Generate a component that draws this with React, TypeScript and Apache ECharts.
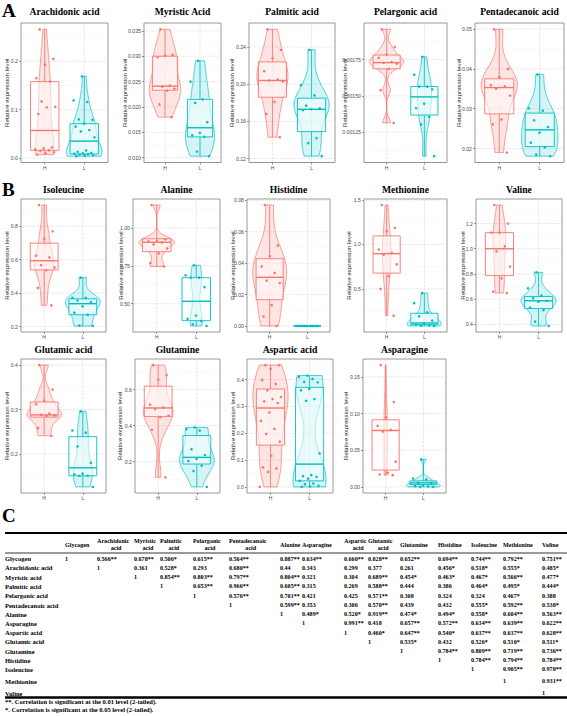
import React, { useEffect, useRef } from "react";
import * as echarts from "echarts";

// ------------------------------ DATA ------------------------------
const groups = ["H", "L"];

const panelTitles = [
  "Arachidonic acid", "Myristic Acid", "Palmitic acid", "Pelargonic acid", "Pentadecanoic acid",
  "Isoleucine", "Alanine", "Histidine", "Methionine", "Valine",
  "Glutamic acid", "Glutamine", "Aspartic acid", "Asparagine",
];

// Relative expression levels (points), and box stats [q1, median, q3]
const arachidonicH = [0.266, 0.205, 0.193, 0.165, 0.158, 0.117, 0.106, 0.105, 0.091, 0.022, 0.02, 0.018, 0.016, 0.015, 0.012, 0.01, 0.007];
const arachidonicL = [0.169, 0.119, 0.116, 0.08, 0.079, 0.071, 0.065, 0.058, 0.055, 0.043, 0.016, 0.013, 0.011, 0.01, 0.009, 0.008, 0.007, 0.006, 0.005, 0.004];
const arachidonicBoxH = [0.016, 0.057, 0.158];
const arachidonicBoxL = [0.0085, 0.035, 0.071];
const arachidonicTicks = [0, 0.1, 0.2];

const myristicH = [0.0353, 0.0303, 0.0301, 0.0298, 0.0242, 0.024, 0.0236, 0.0232, 0.0205, 0.018];
const myristicL = [0.0291, 0.025, 0.0215, 0.0208, 0.017, 0.0149, 0.0144, 0.0141, 0.0112, 0.0103];
const myristicBoxH = [0.0233, 0.0241, 0.03];
const myristicBoxL = [0.0141, 0.0159, 0.0215];
const myristicTicks = [0.01, 0.015, 0.02, 0.025, 0.03, 0.035];

const palmiticH = [0.259, 0.237, 0.228, 0.214, 0.205, 0.204, 0.203, 0.181, 0.168, 0.143];
const palmiticL = [0.237, 0.199, 0.188, 0.177, 0.174, 0.173, 0.172, 0.142, 0.1366, 0.1226];
const palmiticBoxH = [0.186, 0.204, 0.224];
const palmiticBoxL = [0.149, 0.173, 0.185];
const palmiticTicks = [0.12, 0.16, 0.2, 0.24];

const pelargonicH = [0.001958, 0.001835, 0.001785, 0.001762, 0.001733, 0.001728, 0.001722, 0.001686, 0.00154, 0.001314];
const pelargonicL = [0.001769, 0.001646, 0.001564, 0.001564, 0.001545, 0.001446, 0.001415, 0.001356, 0.001304, 0.001085];
const pelargonicBoxH = [0.001686, 0.001729, 0.001781];
const pelargonicBoxL = [0.001368, 0.001493, 0.001564];
const pelargonicTicks = [0.00125, 0.0015, 0.00175];

const pentadecanoicH = [0.0499, 0.04, 0.0379, 0.0359, 0.0356, 0.035, 0.0333, 0.0273, 0.0261, 0.019];
const pentadecanoicL = [0.0386, 0.0301, 0.0295, 0.0271, 0.0254, 0.024, 0.0215, 0.0203, 0.0185, 0.0181];
const pentadecanoicBoxH = [0.0287, 0.0353, 0.0375];
const pentadecanoicBoxL = [0.0205, 0.0247, 0.0289];
const pentadecanoicTicks = [0.02, 0.03, 0.04, 0.05];

const isoleucineH = [0.927, 0.77, 0.725, 0.624, 0.614, 0.568, 0.554, 0.537, 0.432, 0.327];
const isoleucineL = [0.493, 0.372, 0.372, 0.356, 0.347, 0.321, 0.283, 0.271, 0.206, 0.204];
const isoleucineBoxH = [0.539, 0.594, 0.699];
const isoleucineBoxL = [0.271, 0.337, 0.366];
const isoleucineTicks = [0.2, 0.4, 0.6, 0.8];

const alanineH = [1.152, 0.925, 0.917, 0.912, 0.905, 0.892, 0.866, 0.833, 0.768, 0.746];
const alanineL = [0.754, 0.688, 0.672, 0.672, 0.609, 0.422, 0.4, 0.386, 0.364, 0.353];
const alanineBoxH = [0.844, 0.906, 0.929];
const alanineBoxL = [0.388, 0.516, 0.672];
const alanineTicks = [0.5, 0.75, 1.0];

const histidineH = [0.077, 0.0513, 0.0445, 0.0379, 0.0338, 0.0289, 0.0272, 0.0133, 0.006, 0.0];
const histidineL = [0, 0, 0, 0, 0, 0, 0, 0, 0, 0];
const histidineBoxH = [0.0167, 0.031, 0.0428];
const histidineBoxL = [0, 0, 0];
const histidineTicks = [0, 0.02, 0.04, 0.06, 0.08];

const methionineH = [1.443, 1.187, 1.149, 0.942, 0.904, 0.885, 0.775, 0.643, 0.5, 0.198];
const methionineL = [0.451, 0.338, 0.236, 0.19, 0.142, 0.111, 0.096, 0.088, 0.085, 0.082];
const methionineBoxH = [0.677, 0.896, 1.096];
const methionineBoxL = [0.096, 0.115, 0.225];
const methionineTicks = [0.5, 1.0, 1.5];

const valineH = [1.347, 1.2, 1.128, 1.128, 1.019, 0.979, 0.859, 0.765, 0.659, 0.648];
const valineL = [0.813, 0.685, 0.627, 0.608, 0.587, 0.579, 0.533, 0.512, 0.421, 0.387];
const valineBoxH = [0.787, 1.0, 1.128];
const valineBoxL = [0.525, 0.587, 0.621];
const valineTicks = [0.4, 0.6, 0.8, 1.0, 1.2];

const glutamicH = [0.4, 0.345, 0.32, 0.312, 0.291, 0.288, 0.287, 0.285, 0.258, 0.241];
const glutamicL = [0.296, 0.253, 0.248, 0.217, 0.18, 0.156, 0.154, 0.151, 0.151, 0.126];
const glutamicBoxH = [0.283, 0.288, 0.317];
const glutamicBoxL = [0.151, 0.169, 0.239];
const glutamicTicks = [0.2, 0.3, 0.4];

const glutamineH = [0.736, 0.68, 0.656, 0.516, 0.501, 0.492, 0.455, 0.447, 0.377, 0.113];
const glutamineL = [0.39, 0.38, 0.373, 0.269, 0.237, 0.215, 0.204, 0.178, 0.148, 0.06];
const glutamineBoxH = [0.451, 0.498, 0.619];
const glutamineBoxL = [0.187, 0.224, 0.345];
const glutamineTicks = [0.2, 0.4, 0.6];

const asparticH = [0.454, 0.454, 0.44, 0.398, 0.384, 0.36, 0.335, 0.3275, 0.319, 0.3125, 0.2775, 0.246, 0.216, 0.1975, 0.169, 0.116, 0.0725, 0.069, 0.056, 0.0];
const asparticL = [0.415, 0.41, 0.4025, 0.391, 0.39, 0.365, 0.36, 0.3275, 0.321, 0.125, 0.044, 0.04, 0.0375, 0.031, 0.0225, 0.0125, 0.01, 0.004, 0.002, 0.0];
const asparticBoxH = [0.156, 0.294, 0.365];
const asparticBoxL = [0.0225, 0.085, 0.371];
const asparticTicks = [0, 0.1, 0.2, 0.3, 0.4];

const asparagineH = [0.166, 0.1157, 0.0947, 0.0833, 0.0778, 0.0755, 0.0343, 0.0192, 0.0169, 0.016];
const asparagineL = [0.0375, 0.0114, 0.01, 0.0055, 0.0055, 0.0023, 0.001, 0.0008, 0.0, 0.0];
const asparagineBoxH = [0.0229, 0.0769, 0.0915];
const asparagineBoxL = [0.0032, 0.0055, 0.0082];
const asparagineTicks = [0, 0.05, 0.1, 0.15];

const tickDecimals = [1, 3, 2, 5, 2, 1, 2, 2, 1, 1, 1, 1, 1, 2];

// Correlation table (panel C)
const tableHeaders = [
  ["Glycogen"], ["Arachidonic", "acid"], ["Myristic", "acid"], ["Palmitic", "acid"], ["Pelargonic", "acid"],
  ["Pentadecanoic", "acid"], ["Alanine"], ["Asparagine"], ["Aspartic", "acid"], ["Glutamic", "acid"],
  ["Glutamine"], ["Histidine"], ["Isoleucine"], ["Methionine"], ["Valine"],
];
const tableRows = [
  "Glycogen", "Arachidonic acid", "Myristic acid", "Palmitic acid", "Pelargonic acid", "Pentadecanoic acid",
  "Alanine", "Asparagine", "Aspartic acid", "Glutamic acid", "Glutamine", "Histidine", "Isoleucine", "Methionine", "Valine",
];
const corrGlycogen = ["1", "0.566**", "0.678**", "0.506*", "0.615**", "0.564**", "0.887**", "0.634**", "0.660**", "0.828**", "0.652**", "0.694**", "0.744**", "0.792**", "0.751**"];
const corrArachidonic = ["1", "0.361", "0.528*", "0.293", "0.680**", "0.44", "0.343", "0.299", "0.377", "0.261", "0.456*", "0.518*", "0.555*", "0.485*"];
const corrMyristic = ["1", "0.854**", "0.803**", "0.797**", "0.804**", "0.321", "0.304", "0.689**", "0.454*", "0.463*", "0.467*", "0.566**", "0.477*"];
const corrPalmitic = ["1", "0.653**", "0.966**", "0.605**", "0.315", "0.269", "0.588**", "0.444", "0.386", "0.464*", "0.495*", "0.444*"];
const corrPelargonic = ["1", "0.576**", "0.701**", "0.421", "0.425", "0.571**", "0.308", "0.324", "0.324", "0.467*", "0.388"];
const corrPentadecanoic = ["1", "0.599**", "0.353", "0.306", "0.570**", "0.439", "0.432", "0.555*", "0.592**", "0.538*"];
const corrAlanine = ["1", "0.489*", "0.520*", "0.919**", "0.474*", "0.494*", "0.558*", "0.604**", "0.563**"];
const corrAsparagine = ["1", "0.991**", "0.418", "0.657**", "0.572**", "0.634**", "0.639**", "0.622**"];
const corrAspartic = ["1", "0.460*", "0.647**", "0.540*", "0.637**", "0.637**", "0.628**"];
const corrGlutamic = ["1", "0.535*", "0.432", "0.526*", "0.510*", "0.511*"];
const corrGlutamine = ["1", "0.784**", "0.809**", "0.719**", "0.736**"];
const corrHistidine = ["1", "0.784**", "0.794**", "0.784**"];
const corrIsoleucine = ["1", "0.905**", "0.970**"];
const corrMethionine = ["1", "0.931**"];
const corrValine = ["1"];
const footnotes = [
  "**. Correlation is significant at the 0.01 level (2-tailed).",
  "*. Correlation is significant at the 0.05 level (2-tailed).",
];

// ------------------------------ BUILD ------------------------------
const panelH = [arachidonicH, myristicH, palmiticH, pelargonicH, pentadecanoicH, isoleucineH, alanineH, histidineH, methionineH, valineH, glutamicH, glutamineH, asparticH, asparagineH];
const panelL = [arachidonicL, myristicL, palmiticL, pelargonicL, pentadecanoicL, isoleucineL, alanineL, histidineL, methionineL, valineL, glutamicL, glutamineL, asparticL, asparagineL];
const panelBoxH = [arachidonicBoxH, myristicBoxH, palmiticBoxH, pelargonicBoxH, pentadecanoicBoxH, isoleucineBoxH, alanineBoxH, histidineBoxH, methionineBoxH, valineBoxH, glutamicBoxH, glutamineBoxH, asparticBoxH, asparagineBoxH];
const panelBoxL = [arachidonicBoxL, myristicBoxL, palmiticBoxL, pelargonicBoxL, pentadecanoicBoxL, isoleucineBoxL, alanineBoxL, histidineBoxL, methionineBoxL, valineBoxL, glutamicBoxL, glutamineBoxL, asparticBoxL, asparagineBoxL];
const panelTicks = [arachidonicTicks, myristicTicks, palmiticTicks, pelargonicTicks, pentadecanoicTicks, isoleucineTicks, alanineTicks, histidineTicks, methionineTicks, valineTicks, glutamicTicks, glutamineTicks, asparticTicks, asparagineTicks];
const corrRows = [corrGlycogen, corrArachidonic, corrMyristic, corrPalmitic, corrPelargonic, corrPentadecanoic, corrAlanine, corrAsparagine, corrAspartic, corrGlutamic, corrGlutamine, corrHistidine, corrIsoleucine, corrMethionine, corrValine];

// ------------------------------ LAYOUT ------------------------------
const W = 567, H = 716;
const RED = "#F8766D", TEAL = "#00BFC4";
const COLORS = [RED, TEAL];
const VIOLIN_FILL = ["rgba(248,118,109,0.2)", "rgba(0,191,196,0.17)"];
const BOX_FILL = ["rgba(255,252,252,0.55)", "rgba(250,255,255,0.55)"];
const SERIF = "'Liberation Serif', 'Times New Roman', serif";
const SANS = "'Liberation Sans', Arial, sans-serif";

const ROWS = [
  { top: 23, bottom: 162.5, titleY: 11.5 },
  { top: 199, bottom: 332, titleY: 189 },
  { top: 359, bottom: 493, titleY: 349 },
];
const LAYOUT = [
  { row: 0, left: 21, right: 108, yt: 6 },
  { row: 0, left: 144, right: 221, yt: 124 },
  { row: 0, left: 249, right: 335, yt: 231 },
  { row: 0, left: 364, right: 447, yt: 344 },
  { row: 0, left: 475, right: 564, yt: 458 },
  { row: 1, left: 21, right: 106, yt: 6 },
  { row: 1, left: 133, right: 220, yt: 120 },
  { row: 1, left: 247, right: 330, yt: 232 },
  { row: 1, left: 364, right: 447, yt: 348 },
  { row: 1, left: 476, right: 562, yt: 462 },
  { row: 2, left: 21, right: 106, yt: 6 },
  { row: 2, left: 135, right: 220, yt: 119 },
  { row: 2, left: 247, right: 333, yt: 232 },
  { row: 2, left: 363, right: 446, yt: 345 },
];
const LETTERS = [
  { t: "A", x: 2, y: 10 },
  { t: "B", x: 2, y: 189 },
  { t: "C", x: 2, y: 515 },
];
const TABLE = {
  left: 5, right: 567, topLine: 533, headLine: 553, bottomLine: 697.5,
  head1: 541, head2: 547.5, headSingle: 544.5,
  rowY: [558.5, 567.8, 577.1, 586.4, 595.7, 605, 614.2, 623.4, 632.6, 641.8, 651, 660.2, 669.4, 681, 693],
  colX: [65, 97, 134, 160, 193, 229, 280, 302, 344, 368, 400, 438, 471, 503, 542],
  foot: [701.5, 709.5],
  font: 6.1,
  rowFont: 6.5,
};

// ------------------------------ HELPERS ------------------------------
function quantile(sorted: number[], p: number) {
  const h = (sorted.length - 1) * p;
  const lo = Math.floor(h);
  const hi = Math.min(lo + 1, sorted.length - 1);
  return sorted[lo] + (h - lo) * (sorted[hi] - sorted[lo]);
}

// Gaussian kernel density (ggplot2 stat_ydensity, bw.nrd0, trim = TRUE)
function density(vals: number[]) {
  const n = vals.length;
  const s = [...vals].sort((a, b) => a - b);
  const mean = s.reduce((a, b) => a + b, 0) / n;
  const sd = Math.sqrt(s.reduce((a, b) => a + (b - mean) * (b - mean), 0) / (n - 1));
  const iqr = quantile(s, 0.75) - quantile(s, 0.25);
  let lo = Math.min(sd, iqr / 1.34);
  if (!(lo > 0)) lo = sd || Math.abs(s[0]) || 1;
  const bw = 0.9 * lo * Math.pow(n, -0.2);
  const N = 96;
  const ys: number[] = [], ds: number[] = [];
  for (let i = 0; i <= N; i++) {
    const y = s[0] + ((s[n - 1] - s[0]) * i) / N;
    let d = 0;
    for (const v of s) {
      const z = (y - v) / bw;
      d += Math.exp(-0.5 * z * z);
    }
    ys.push(y);
    ds.push(d / (n * bw * Math.sqrt(2 * Math.PI)));
  }
  return { ys, ds, min: s[0], max: s[n - 1] };
}

function yRange(i: number) {
  const all = [...panelH[i], ...panelL[i]];
  const mn = Math.min(...all), mx = Math.max(...all);
  const span = mx - mn;
  return [mn - 0.05 * span, mx + 0.05 * span];
}

function makeRenderItem(i: number) {
  const sets = [panelH[i], panelL[i]];
  const boxes = [panelBoxH[i], panelBoxL[i]];
  const ticks = panelTicks[i];
  const dens = sets.map(density);
  const dmax = Math.max(...dens.map((d) => Math.max(...d.ds)));
  return (params: any, api: any) => {
    const cs = params.coordSys;
    const left = cs.x, right = cs.x + cs.width, top = cs.y, bottom = cs.y + cs.height;
    const unit = api.size([1, 0])[0];
    const Y = (v: number) => api.coord([1, v])[1];
    const X = (x: number) => api.coord([x, ticks[0]])[0];
    const ch: any[] = [];
    const gl = (x1: number, y1: number, x2: number, y2: number, major: boolean) => ({
      type: "line",
      shape: { x1, y1, x2, y2 },
      style: { stroke: major ? "#DCDCDC" : "#EEEEEE", lineWidth: major ? 0.7 : 0.5, lineDash: [2.5, 1.2] },
      silent: true,
    });
    const step = ticks[1] - ticks[0];
    const minors = [ticks[0] - step / 2, ...ticks.map((t) => t + step / 2)];
    for (const m of minors) {
      const y = Y(m);
      if (y > top + 0.8 && y < bottom - 0.8) ch.push(gl(left + 0.5, y, right - 0.5, y, false));
    }
    for (const t of ticks) {
      const y = Y(t);
      if (y > top + 0.5 && y < bottom - 0.5) ch.push(gl(left + 0.5, y, right - 0.5, y, true));
    }
    for (const g of [1, 2]) ch.push(gl(X(g), top + 0.5, X(g), bottom - 0.5, true));

    // violins, whiskers, boxes
    for (let g = 0; g < 2; g++) {
      const cx = X(g + 1);
      const d = dens[g];
      const rightSide: number[][] = [];
      const leftSide: number[][] = [];
      for (let k = 0; k < d.ys.length; k++) {
        const hw = 0.45 * unit * (d.ds[k] / dmax);
        const y = Y(d.ys[k]);
        rightSide.push([cx + hw, y]);
        leftSide.push([cx - hw, y]);
      }
      const pts = [...rightSide, ...leftSide.reverse()];
      ch.push({
        type: "polygon",
        shape: { points: pts },
        style: { fill: VIOLIN_FILL[g], stroke: COLORS[g], lineWidth: 0.7, opacity: 1 },
      });
      const [q1, med, q3] = boxes[g];
      ch.push({ type: "line", shape: { x1: cx, y1: Y(q3), x2: cx, y2: Y(d.max) }, style: { stroke: COLORS[g], lineWidth: 0.8 } });
      ch.push({ type: "line", shape: { x1: cx, y1: Y(q1), x2: cx, y2: Y(d.min) }, style: { stroke: COLORS[g], lineWidth: 0.8 } });
      const bw = 0.36 * unit;
      ch.push({
        type: "rect",
        shape: { x: cx - bw, y: Y(q3), width: 2 * bw, height: Math.max(Y(q1) - Y(q3), 0.01) },
        style: { fill: BOX_FILL[g], stroke: COLORS[g], lineWidth: 0.9 },
      });
      ch.push({ type: "line", shape: { x1: cx - bw, y1: Y(med), x2: cx + bw, y2: Y(med) }, style: { stroke: COLORS[g], lineWidth: 1.4 } });
    }
    // jittered points
    for (let g = 0; g < 2; g++) {
      const cx = X(g + 1);
      sets[g].forEach((v, k) => {
        const f = (k * 0.618034 + 0.27 + g * 0.13) % 1;
        const off = (f - 0.5) * 0.56 * unit;
        ch.push({ type: "circle", shape: { cx: cx + off, cy: Y(v), r: 1.3 }, style: { fill: COLORS[g] } });
      });
    }
    return { type: "group", children: ch };
  };
}

let measureCtx: CanvasRenderingContext2D | null = null;
function textWidth(t: string, font: string) {
  if (!measureCtx) measureCtx = document.createElement("canvas").getContext("2d");
  if (!measureCtx) return t.length * 3;
  measureCtx.font = font;
  return measureCtx.measureText(t).width;
}

function buildOption() {
  const grid: any[] = [], xAxis: any[] = [], yAxis: any[] = [], series: any[] = [];
  const elements: any[] = [];

  panelTitles.forEach((title, i) => {
    const L = LAYOUT[i];
    const R = ROWS[L.row];
    const [ymin, ymax] = yRange(i);
    const dec = tickDecimals[i];
    grid.push({
      left: L.left, top: R.top, width: L.right - L.left, height: R.bottom - R.top,
      show: true, backgroundColor: "#FFFFFF", borderColor: "#8C8C8C", borderWidth: 0.9,
      containLabel: false, outerBoundsMode: "none",
    });
    xAxis.push({
      type: "value", gridIndex: i, min: 0.4, max: 2.6,
      axisLine: { show: false, onZero: false },
      splitLine: { show: false },
      axisTick: { show: true, customValues: [1, 2], length: 2, lineStyle: { color: "#555", width: 0.6 } },
      axisLabel: {
        show: true, customValues: [1, 2], margin: 2.5, fontSize: 5, color: "#4D4D4D", fontFamily: SANS,
        formatter: (v: number) => groups[Math.round(v) - 1] ?? "",
      },
    });
    yAxis.push({
      type: "value", gridIndex: i, min: ymin, max: ymax,
      axisLine: { show: false, onZero: false },
      splitLine: { show: false },
      axisTick: { show: true, customValues: panelTicks[i], length: 2, lineStyle: { color: "#555", width: 0.6 } },
      axisLabel: {
        show: true, customValues: panelTicks[i], margin: 3, fontSize: 5.2, color: "#4D4D4D", fontFamily: SANS,
        formatter: (v: number) => v.toFixed(dec),
      },
    });
    series.push({
      type: "custom", xAxisIndex: i, yAxisIndex: i, clip: false,
      data: [[1, ymin]], encode: { x: 0, y: 1 },
      renderItem: makeRenderItem(i), silent: true, z: 2,
    });
    elements.push({
      type: "text", x: (L.left + L.right) / 2, y: R.titleY,
      style: { text: title, fontSize: 9.6, fontWeight: "bold", fontFamily: SERIF, fill: "#000", align: "center", verticalAlign: "middle" },
    });
    elements.push({
      type: "text", x: L.yt, y: (R.top + R.bottom) / 2, rotation: Math.PI / 2,
      style: { text: "Relative expression level", fontSize: 6.2, fontFamily: SANS, fill: "#222", align: "center", verticalAlign: "middle" },
    });
  });

  LETTERS.forEach((l) => {
    elements.push({
      type: "text", x: l.x, y: l.y,
      style: { text: l.t, fontSize: 19, fontWeight: "bold", fontFamily: SERIF, fill: "#000", align: "left", verticalAlign: "middle" },
    });
  });

  // ---- table ----
  const T = TABLE;
  const fnt = `bold ${T.font}px ${SERIF}`;
  const txt = (text: string, x: number, y: number, align = "left", size = T.font) => ({
    type: "text", x, y,
    style: { text, fontSize: size, fontWeight: "bold", fontFamily: SERIF, fill: "#000", align, verticalAlign: "middle" },
  });
  elements.push({ type: "line", shape: { x1: T.left, y1: T.topLine, x2: T.right, y2: T.topLine }, style: { stroke: "#000", lineWidth: 2 } });
  elements.push({ type: "line", shape: { x1: T.left, y1: T.headLine, x2: T.right, y2: T.headLine }, style: { stroke: "#000", lineWidth: 0.8 } });
  elements.push({ type: "line", shape: { x1: T.left, y1: T.bottomLine, x2: T.right, y2: T.bottomLine }, style: { stroke: "#000", lineWidth: 2.4 } });
  tableHeaders.forEach((h, c) => {
    const x = T.colX[c];
    if (h.length === 1) {
      elements.push(txt(h[0], x, T.headSingle));
    } else {
      const w1 = textWidth(h[0], fnt);
      elements.push(txt(h[0], x, T.head1));
      elements.push(txt(h[1], x + w1 / 2 + 3, T.head2, "center"));
    }
  });
  tableRows.forEach((r, ri) => {
    const y = T.rowY[ri];
    elements.push(txt(r, T.left, y, "left", T.rowFont));
    corrRows[ri].forEach((v, k) => {
      elements.push(txt(v, T.colX[ri + k], y));
    });
  });
  footnotes.forEach((f, k) => elements.push(txt(f, T.left, T.foot[k], "left", T.rowFont)));

  return {
    animation: false,
    backgroundColor: "#FFFFFF",
    grid, xAxis, yAxis, series,
    graphic: { elements },
  };
}

export default function App() {
  const ref = useRef<HTMLDivElement>(null);
  useEffect(() => {
    if (!ref.current) return;
    const chart = echarts.init(ref.current, undefined, { renderer: "svg", width: W, height: H });
    chart.setOption(buildOption() as any);
    return () => chart.dispose();
  }, []);
  return (
    <div
      ref={ref}
      style={{ position: "absolute", left: 0, top: 0, width: W, height: H, background: "#fff" }}
    />
  );
}
